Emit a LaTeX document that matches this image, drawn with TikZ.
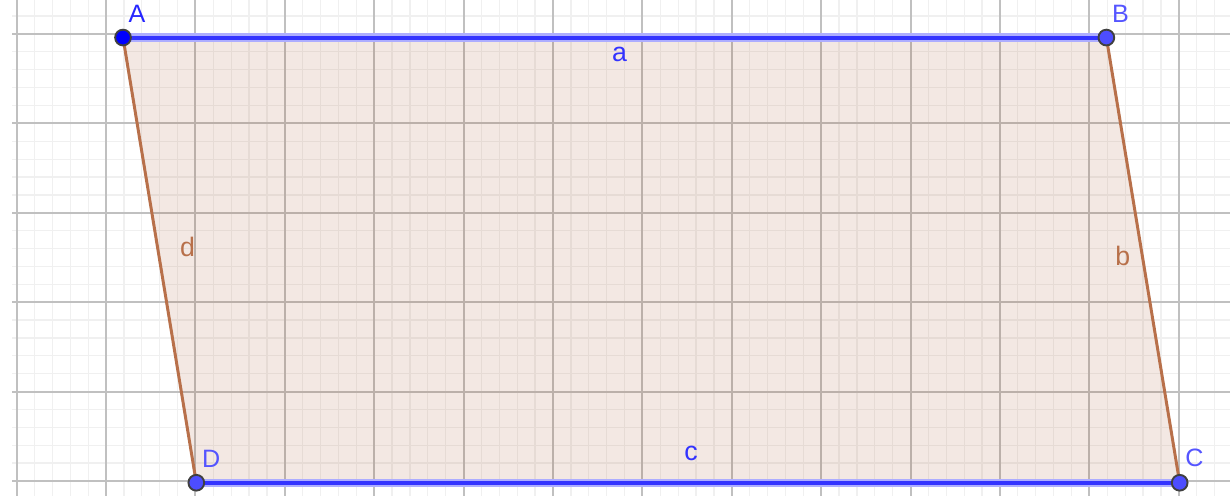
\documentclass[tikz,border=0pt]{standalone}
\usepackage{fontspec}
\setmainfont{Liberation Sans}
\usepackage{xcolor}
\usetikzlibrary{calc,positioning}

\definecolor{gridmajor}{RGB}{192,192,192}
\definecolor{gridminor}{RGB}{240,240,240}
\definecolor{sidebrown}{RGB}{184,112,74}
\definecolor{areabrown}{RGB}{153,51,0}
\definecolor{edgeblue}{RGB}{51,51,255}
\definecolor{ptblue}{RGB}{77,77,255}
\definecolor{lblblue}{RGB}{85,85,255}

\begin{document}
\begin{tikzpicture}[
    minorgrid/.style={gridminor,line width=0.4pt},
    majorgrid/.style={gridmajor,line width=0.6pt},
    topside/.style={edgeblue,line width=1.3pt},
    glowside/.style={edgeblue!40,line width=2.6pt},
    slantside/.style={sidebrown,line width=0.95pt},
    vertex/.style={circle,fill=ptblue,draw=black!75,line width=0.6pt,inner sep=0pt,minimum size=4.4mm*0.4},
    vname/.style={lblblue,font=\fontsize{8}{9}\selectfont},
    sidename/.style={font=\fontsize{8.5}{9}\selectfont,inner sep=1pt}
    ]
    \useasboundingbox (-1.186,-0.168) rectangle (12.573,5.380);
    \fill[white] (-1.186,-0.168) rectangle (12.573,5.380);

    %grid
    \draw[minorgrid] (-1.05,-0.168) grid[step=0.2] (12.573,5.380);
    \draw[majorgrid] (-1.05,-0.168) grid[step=1] (12.573,5.380);

    %corners
    \coordinate (A) at (0.19,4.96);
    \coordinate (B) at (11.19,4.96);
    \coordinate (C) at (12.01,-0.02);
    \coordinate (D) at (1.01,-0.02);

    %area
    \fill[areabrown,fill opacity=0.11] (A) -- (B) -- (C) -- (D) -- cycle;

    %sides
    \draw[glowside] (A) -- (B);
    \draw[glowside] (D) -- (C);
    \draw[topside] (A) -- node[sidename,below=1.5pt,edgeblue,pos=0.505] {a} (B);
    \draw[topside] (D) -- node[sidename,above=5.5pt,edgeblue,pos=0.503] {c} (C);
    \draw[slantside] (B) -- node[sidename,left=2.4pt,sidebrown,pos=0.49] {b} (C);
    \draw[slantside] (A) -- node[sidename,right=5.7pt,sidebrown,pos=0.47] {d} (D);

    %points
    \node[vertex,fill=blue] (pA) at (A) {};
    \node[vertex] (pB) at (B) {};
    \node[vertex] (pC) at (C) {};
    \node[vertex] (pD) at (D) {};

    %names
    \node[vname,text=blue!85,above right=-0.2mm and -1.3mm of pA] (nA) {A};
    \node[vname,above right=-0.2mm and -1.3mm of pB] (nB) {B};
    \node[vname,above right=-0.2mm and -1.3mm of pC] (nC) {C};
    \node[vname,above right=-0.2mm and -1.3mm of pD] (nD) {D};
\end{tikzpicture}
\end{document}
